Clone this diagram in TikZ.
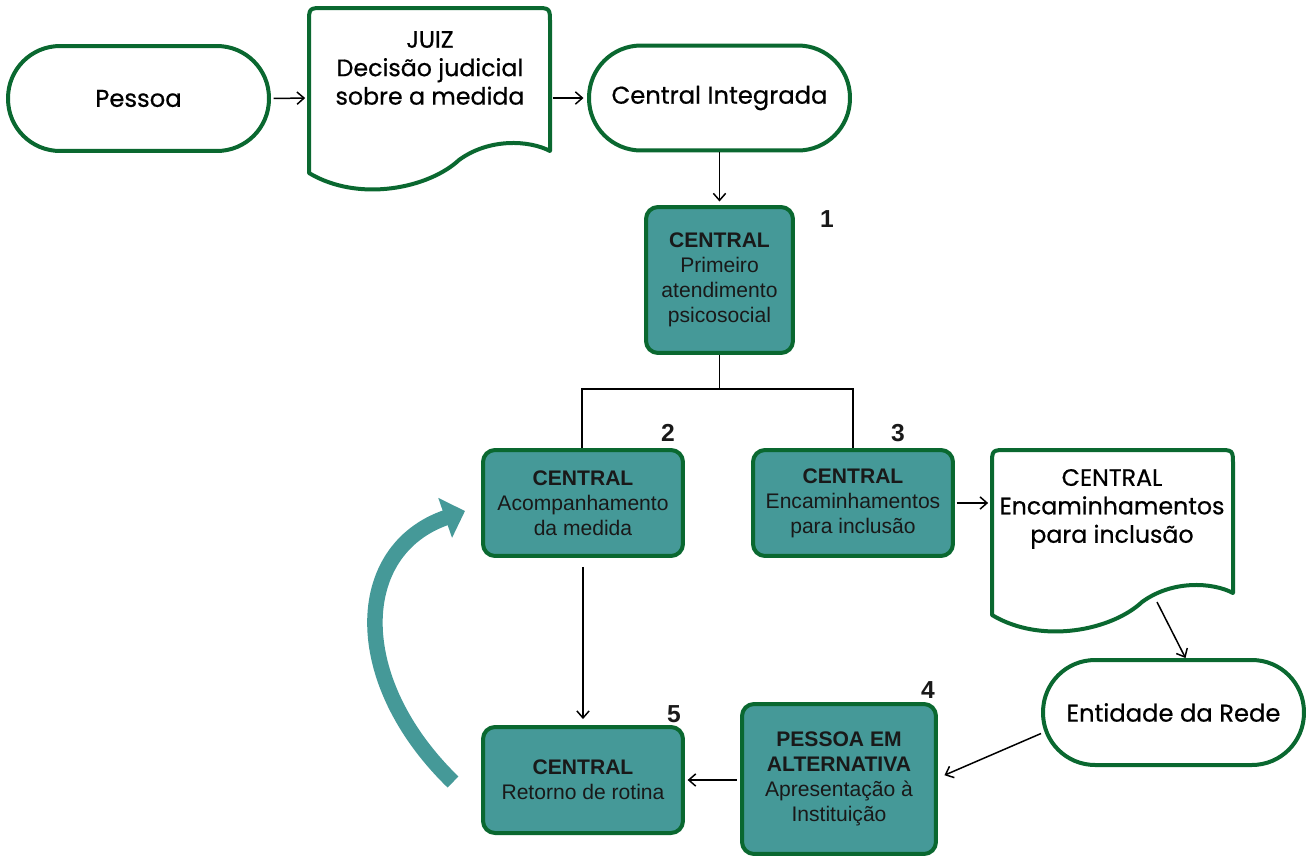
\documentclass[tikz,border=0pt]{standalone}
\usepackage{fontspec}
\setmainfont{Liberation Sans}
\newfontfamily\mont{Poppins}[FakeBold=0.6]
\usetikzlibrary{arrows.meta,calc}
\definecolor{G}{RGB}{10,104,48}
\definecolor{T}{RGB}{69,153,152}
\definecolor{ink}{RGB}{25,25,25}
\begin{document}
\begin{tikzpicture}[x=0.02cm,y=-0.02cm,
 term/.style={draw=G,line width=0.08cm,fill=white,rounded corners=1.04cm,minimum width=5.22cm,minimum height=2.1cm,font=\mont\fontsize{13.8}{16}\selectfont,inner sep=0pt},
 box/.style={draw=G,line width=0.08cm,fill=T,rounded corners=0.24cm,align=center,font=\fontsize{12}{14.2}\selectfont,inner sep=0pt,text=ink},
 doctext/.style={align=center,font=\mont\fontsize{13.5}{16.2}\selectfont,inner sep=0pt},
 docline/.style={draw=G,line width=0.08cm,fill=white,line join=round},
 conn/.style={line width=0.85pt,-{Straight Barb[length=4pt,width=7pt]}},
 num/.style={font=\bfseries\fontsize{14}{16}\selectfont,text=ink,inner sep=0pt}
]
\useasboundingbox (0,0) rectangle (1309,856);
% document shapes
\begin{scope}[shift={(309,8)}]
\draw[docline] (0,165) -- (0,15) .. controls (0,0) .. (15,0) -- (226,0) .. controls (241,0) .. (241,15) -- (241,143)
  .. controls (220,132) and (180,130) .. (150,152) .. controls (120,180) and (50,195) .. (0,165) -- cycle;
\end{scope}
\begin{scope}[shift={(992,450)}]
\draw[docline] (0,165) -- (0,15) .. controls (0,0) .. (15,0) -- (226,0) .. controls (241,0) .. (241,15) -- (241,143)
  .. controls (220,132) and (180,130) .. (150,152) .. controls (120,180) and (50,195) .. (0,165) -- cycle;
\end{scope}
\node[inner sep=0pt,minimum width=4.82cm,minimum height=3.6cm] (juiz) at (429.5,98) {};
\node[inner sep=0pt,minimum width=4.82cm,minimum height=3.64cm] (doc2) at (1112.5,541) {};
\node[doctext] (juiztxt) at (430,68) {JUIZ\\Decisão judicial\\sobre a medida};
\node[doctext] (doc2txt) at (1112,509) {CENTRAL\\Encaminhamentos\\para inclusão};
\coordinate (d2b) at (1157,602);
% terminals
\node[term] (pessoa) at (138.5,98.5) {Pessoa};
\node[term] (ci) at (719.5,98) {Central Integrada};
\node[term] (ent) at (1173.5,712.5) {Entidade da Rede};
% boxes
\node[box,minimum width=2.94cm,minimum height=2.92cm] (b1) at (719.5,280) {\textbf{CENTRAL}\\Primeiro\\atendimento\\psicosocial};
\node[box,minimum width=4cm,minimum height=2.12cm] (b2) at (583,503) {\textbf{CENTRAL}\\Acompanhamento\\da medida};
\node[box,minimum width=4cm,minimum height=2.12cm] (b3) at (853,503) {\textbf{CENTRAL}\\Encaminhamentos\\para inclusão};
\node[box,minimum width=3.88cm,minimum height=3cm] (b4) at (839,779) {\textbf{PESSOA EM}\\\textbf{ALTERNATIVA}\\Apresentação à\\Instituição};
\node[box,minimum width=4cm,minimum height=2.12cm] (b5) at (583,780) {\textbf{CENTRAL}\\Retorno de rotina};
% numbers
\node[num] (n1) at (827,219) {1};
\node[num] (n2) at (668,433) {2};
\node[num] (n3) at (898,433) {3};
\node[num] (n4) at (928,690) {4};
\node[num] (n5) at (674,714) {5};
% connectors
\draw[conn,shorten <=1.5pt,shorten >=2pt] (pessoa.east) -- (juiz.west);
\draw[conn,shorten <=1.5pt,shorten >=2pt] (juiz.east) -- (ci.west);
\draw[conn,shorten >=2pt] (ci.south) -- (b1.north);
\coordinate (split) at ($(b1.south)+(0,34)$);
\draw[line width=0.85pt] (b1.south) -- (split);
\draw[line width=0.85pt] (split) -| (b2.north -| 582,0);
\draw[line width=0.85pt] (split) -| (b3.north);
\draw[conn,shorten <=1pt,shorten >=2pt] (b3.east) -- (b3.east -| doc2.west);
\draw[conn] (d2b) -- ($(ent.north)+(12,0)$);
\draw[conn,shorten >=4pt] ($(ent.west)+(0,21)$) -- ($(b4.east)+(0,-1)$);
\draw[conn,shorten <=2pt,shorten >=1.5pt] (b4.west |- b5.east) -- (b5.east);
\draw[conn,shorten <=5pt,shorten >=3.4pt] (b2.south) -- (b5.north);
% return arrow
\draw[T,line width=0.31cm,-{Triangle[length=0.42cm,width=0.82cm]}] (453,782) .. controls (348,680) and (352,550) .. (465,511);
\end{tikzpicture}
\end{document}
